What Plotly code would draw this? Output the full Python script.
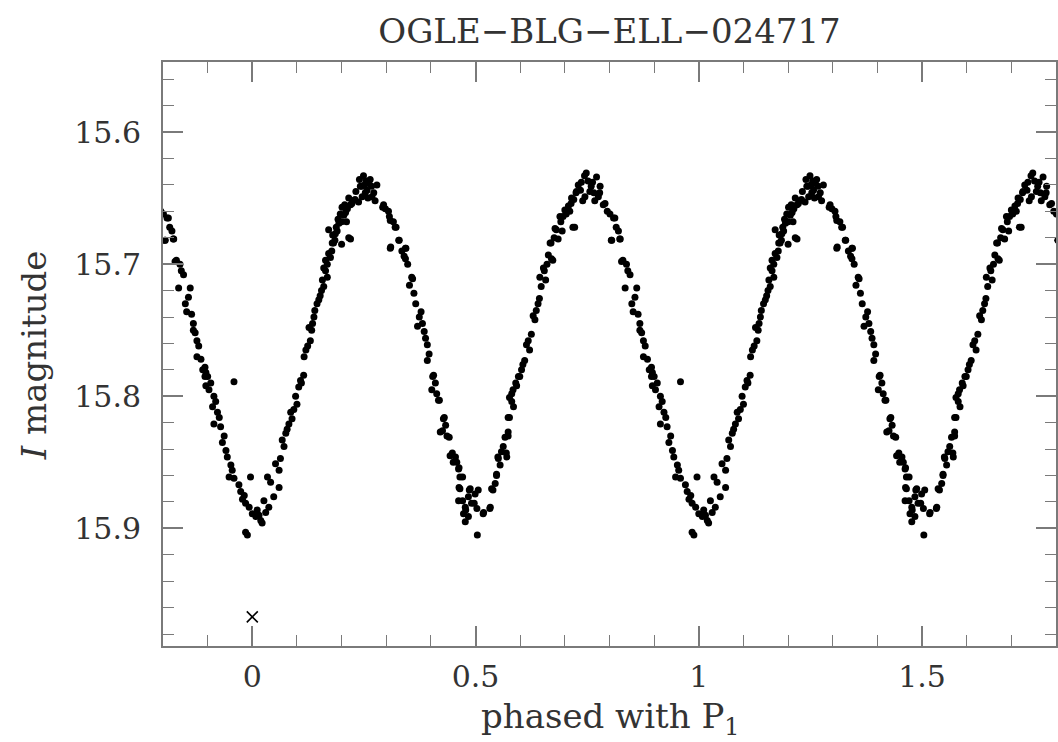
import plotly.graph_objects as go

# Phased I-band photometry of OGLE-BLG-ELL-024717 (one cycle, phase in [0, 1))
phase = [
    # primary minimum around phase 0 (stored as 0.9..1.0 and 0.0..0.12)
    0.896, 0.900, 0.896, 0.903, 0.914, 0.918, 0.911, 0.922, 0.926, 0.914,
    0.929, 0.959, 0.941, 0.952, 0.955, 0.948, 0.959, 0.970, 0.974, 0.978,
    0.985, 0.996, 0.000, 0.008, 0.019, 0.022, 0.985, 0.989, 0.030, 0.037,
    0.034, 0.041, 0.060, 0.048, 0.026, 0.011, 0.060, 0.052, 0.063, 0.071,
    0.067, 0.075, 0.082, 0.089, 0.100, 0.097, 0.104, 0.108, 0.115, 0.982,
    0.993, 0.015, 0.907, 0.933, 0.937, 0.944,
    # rise to maximum at 0.25
    0.116, 0.120, 0.127, 0.130, 0.135, 0.140, 0.145, 0.149, 0.155, 0.160,
    0.160, 0.164, 0.164, 0.168, 0.168, 0.171, 0.171, 0.175, 0.178, 0.179,
    0.182, 0.185, 0.186, 0.190, 0.194, 0.197, 0.200, 0.200, 0.201, 0.205,
    0.209, 0.213, 0.216, 0.216, 0.220, 0.220, 0.223, 0.225, 0.230, 0.238,
    0.242, 0.245, 0.246, 0.249, 0.253, 0.257, 0.261, 0.264, 0.272, 0.279,
    0.240, 0.251, 0.255, 0.259, 0.267, 0.268, 0.275, 0.232,
    0.078, 0.086, 0.093, 0.110, 0.124, 0.133, 0.138, 0.152, 0.157, 0.180,
    0.188, 0.192, 0.207, 0.211,
    # decline to secondary minimum at 0.5
    0.292, 0.294, 0.305, 0.307, 0.309, 0.310, 0.309, 0.320, 0.322, 0.328,
    0.329, 0.340, 0.343, 0.344, 0.343, 0.352, 0.357, 0.359, 0.366, 0.370,
    0.378, 0.385, 0.392, 0.392, 0.402, 0.404, 0.406, 0.417, 0.419, 0.421,
    0.426, 0.428, 0.430, 0.436, 0.441, 0.443, 0.448, 0.450, 0.462, 0.463,
    0.465, 0.471, 0.463, 0.465, 0.462, 0.471, 0.473, 0.477, 0.477, 0.478,
    0.484, 0.484, 0.486, 0.488, 0.491, 0.497, 0.499, 0.503, 0.504, 0.518,
    0.533,
    0.298, 0.316, 0.335, 0.348, 0.362, 0.374, 0.381, 0.388, 0.396, 0.410,
    0.413, 0.433, 0.455, 0.458,
    # rise to maximum at 0.75
    0.506, 0.517, 0.532, 0.536, 0.539, 0.544, 0.547, 0.547, 0.550, 0.551,
    0.562, 0.566, 0.569, 0.570, 0.573, 0.573, 0.573, 0.576, 0.576, 0.581,
    0.581, 0.584, 0.592, 0.596, 0.599, 0.610, 0.614, 0.625, 0.629, 0.643,
    0.644, 0.647, 0.652, 0.654, 0.667, 0.669, 0.670, 0.673, 0.678, 0.681,
    0.685, 0.689, 0.696, 0.700, 0.714, 0.715, 0.718, 0.722, 0.725, 0.726,
    0.737, 0.744, 0.745, 0.748, 0.759, 0.767, 0.771, 0.778, 0.779, 0.775,
    0.730, 0.735, 0.752, 0.756, 0.762, 0.765, 0.740, 0.708, 0.703,
    0.555, 0.558, 0.585, 0.590, 0.603, 0.606, 0.618, 0.621, 0.633, 0.636,
    0.640, 0.657, 0.660, 0.663, 0.676, 0.691, 0.694, 0.711, 0.720,
    # decline towards phase 0.9
    0.786, 0.790, 0.801, 0.809, 0.812, 0.804, 0.805, 0.823, 0.824, 0.827,
    0.830, 0.835, 0.841, 0.846, 0.850, 0.853, 0.861, 0.868, 0.868, 0.876,
    0.876, 0.894, 0.894,
    0.795, 0.815, 0.820, 0.838, 0.857, 0.864, 0.872, 0.880, 0.885, 0.889,
]

mag = [
    15.782, 15.785, 15.792, 15.795, 15.800, 15.804, 15.808, 15.812, 15.816, 15.821,
    15.823, 15.789, 15.841, 15.852, 15.856, 15.861, 15.862, 15.867, 15.872, 15.878,
    15.881, 15.861, 15.889, 15.891, 15.894, 15.896, 15.903, 15.905, 15.888, 15.884,
    15.861, 15.865, 15.869, 15.876, 15.879, 15.886, 15.856, 15.851, 15.847, 15.838,
    15.833, 15.828, 15.821, 15.817, 15.806, 15.800, 15.793, 15.788, 15.784, 15.875,
    15.884, 15.890, 15.790, 15.835, 15.830, 15.846,
    15.770, 15.765, 15.748, 15.758, 15.745, 15.735, 15.730, 15.727, 15.720, 15.717,
    15.703, 15.705, 15.697, 15.710, 15.700, 15.692, 15.674, 15.695, 15.690, 15.684,
    15.684, 15.682, 15.677, 15.675, 15.669, 15.662, 15.668, 15.685, 15.657, 15.663,
    15.661, 15.658, 15.680, 15.650, 15.655, 15.681, 15.654, 15.652, 15.651, 15.653,
    15.641, 15.641, 15.649, 15.633, 15.646, 15.644, 15.639, 15.636, 15.646, 15.640,
    15.636, 15.640, 15.637, 15.650, 15.641, 15.649, 15.652, 15.645,
    15.825, 15.812, 15.810, 15.790, 15.762, 15.750, 15.740, 15.724, 15.712, 15.678,
    15.672, 15.666, 15.655, 15.668,
    15.657, 15.655, 15.660, 15.664, 15.667, 15.687, 15.688, 15.672, 15.672, 15.682,
    15.682, 15.694, 15.688, 15.688, 15.696, 15.716, 15.710, 15.711, 15.730, 15.747,
    15.736, 15.751, 15.761, 15.773, 15.795, 15.785, 15.784, 15.803, 15.803, 15.827,
    15.826, 15.817, 15.816, 15.830, 15.831, 15.845, 15.843, 15.850, 15.855, 15.854,
    15.861, 15.861, 15.869, 15.870, 15.879, 15.879, 15.889, 15.884, 15.895, 15.886,
    15.876, 15.891, 15.871, 15.870, 15.881, 15.881, 15.874, 15.885, 15.905, 15.888,
    15.884,
    15.658, 15.668, 15.690, 15.700, 15.722, 15.740, 15.745, 15.756, 15.768, 15.790,
    15.798, 15.822, 15.846, 15.850,
    15.871, 15.889, 15.885, 15.870, 15.871, 15.866, 15.860, 15.859, 15.846, 15.847,
    15.838, 15.831, 15.843, 15.846, 15.827, 15.830, 15.816, 15.816, 15.801, 15.804,
    15.798, 15.795, 15.792, 15.785, 15.785, 15.773, 15.761, 15.753, 15.739, 15.726,
    15.710, 15.717, 15.703, 15.705, 15.684, 15.684, 15.696, 15.697, 15.673, 15.674,
    15.681, 15.664, 15.664, 15.659, 15.654, 15.650, 15.672, 15.672, 15.646, 15.645,
    15.638, 15.633, 15.649, 15.631, 15.641, 15.652, 15.634, 15.646, 15.641, 15.649,
    15.640, 15.644, 15.637, 15.645, 15.638, 15.646, 15.652, 15.656, 15.662,
    15.852, 15.842, 15.808, 15.790, 15.780, 15.776, 15.758, 15.765, 15.742, 15.735,
    15.730, 15.712, 15.700, 15.693, 15.680, 15.668, 15.675, 15.660, 15.651,
    15.655, 15.654, 15.662, 15.665, 15.665, 15.682, 15.682, 15.681, 15.681, 15.698,
    15.697, 15.718, 15.705, 15.708, 15.730, 15.736, 15.718, 15.745, 15.750, 15.758,
    15.770, 15.778, 15.785,
    15.660, 15.672, 15.675, 15.700, 15.725, 15.738, 15.752, 15.762, 15.772, 15.780,
]

# epoch of minimum marker
epoch_phase = [0.0]
epoch_mag = [15.967]

title_text = "OGLE\u2212BLG\u2212ELL\u2212024717"
x_ticks = [0, 0.5, 1, 1.5]
x_tick_text = ["0", "0.5", "1", "1.5"]
y_ticks = [15.6, 15.7, 15.8, 15.9]
y_tick_text = ["15.6", "15.7", "15.8", "15.9"]

# repeat the cycle so the plot spans phases -0.2 .. 1.8
xs, ys = [], []
for shift in (-1, 0, 1):
    xs += [p + shift for p in phase]
    ys += mag

FONT = "DejaVu Serif"
AX = "#7a7a7a"
TXT = "#333333"

fig = go.Figure()
fig.add_trace(go.Scatter(
    x=xs, y=ys, mode="markers",
    marker=dict(color="black", size=7, line=dict(width=0)),
    showlegend=False, hoverinfo="skip",
))
fig.add_trace(go.Scatter(
    x=epoch_phase, y=epoch_mag, mode="markers",
    marker=dict(symbol="x-thin", size=11, line=dict(color="black", width=1.6)),
    showlegend=False, hoverinfo="skip",
))

axis_common = dict(
    showline=True, linecolor=AX, linewidth=2, mirror="ticks",
    ticks="inside", ticklen=20, tickwidth=1.5, tickcolor=AX,
    showgrid=False, zeroline=False,
    tickfont=dict(family=FONT, size=30, color=TXT),
)

fig.update_xaxes(
    range=[-0.2, 1.8], tickvals=x_ticks, ticktext=x_tick_text,
    minor=dict(dtick=0.1, tick0=0, ticks="inside", ticklen=11,
               tickwidth=1.2, tickcolor=AX, showgrid=False),
    ticklabelstandoff=3,
    **axis_common,
)
fig.update_yaxes(
    range=[15.989, 15.547], tickvals=y_ticks, ticktext=y_tick_text,
    minor=dict(dtick=0.02, tick0=15.6, ticks="inside", ticklen=11,
               tickwidth=1.2, tickcolor=AX, showgrid=False),
    ticklabelstandoff=14,
    **axis_common,
)

fig.add_annotation(
    text="phased with P<sub>1</sub>", xref="paper", yref="paper",
    x=0.5, y=-0.083, xanchor="center", yanchor="top", showarrow=False,
    font=dict(family=FONT, size=34, color=TXT),
)
fig.add_annotation(
    text="<i>I</i> magnitude", xref="paper", yref="paper",
    x=-0.145, y=0.497, xanchor="center", yanchor="middle", textangle=-90,
    showarrow=False, font=dict(family=FONT, size=34, color=TXT),
)

fig.update_layout(
    width=1058, height=742,
    margin=dict(l=163, r=0, t=62, b=96),
    paper_bgcolor="white", plot_bgcolor="white",
    title=dict(text=title_text, x=0.5, xref="paper", y=0.958, yref="container",
               xanchor="center", yanchor="middle",
               font=dict(family=FONT, size=34, color=TXT)),
)

fig.write_html("out.html")
